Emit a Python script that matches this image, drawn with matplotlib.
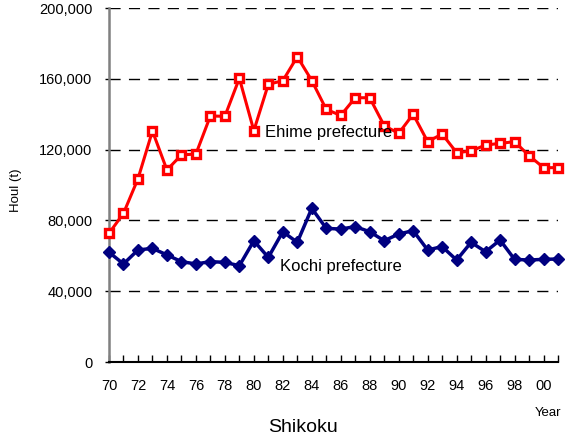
import matplotlib
matplotlib.use("Agg")
import matplotlib.pyplot as plt
from matplotlib.ticker import FuncFormatter

plt.rcParams['font.family'] = ['Liberation Sans', 'DejaVu Sans']

years = list(range(1970, 2002))
ehime = [72.7, 84, 103.5, 130.5, 108.5, 117, 117.5, 139, 138.8, 160.3,
         130.7, 156.9, 158.9, 172.5, 159, 142.7, 139.3, 149.3, 149.3, 133.5,
         129.2, 140, 124.5, 128.8, 118.3, 119.2, 122.6, 123.5, 124.5, 116.6,
         109.8, 109.8]
kochi = [62, 55.4, 63.3, 64.2, 60.5, 56.7, 55.4, 56.7, 56.3, 54.4,
         68.5, 59.1, 73.6, 67.6, 86.8, 75.5, 75.1, 76.5, 73.6, 68.5,
         72.3, 74.2, 63.3, 65.2, 57.6, 67.6, 62.3, 68.9, 58, 57.6,
         58, 58.2]
ehime = [v * 1000 for v in ehime]
kochi = [v * 1000 for v in kochi]

yticks = [0, 40000, 80000, 120000, 160000, 200000]
xtick_years = list(range(1970, 2001, 2))
xtick_labels = [f"{y % 100:02d}" for y in xtick_years]

fig = plt.figure(figsize=(5.78, 4.43), dpi=100)
ax = fig.add_axes([109/578, 1-362/443, (558-109)/578, (362-8)/443])

ax.plot(years, ehime, color='#ff0000', lw=2.2, marker='s', ms=5.5,
        mfc='white', mec='#ff0000', mew=2.4, zorder=3, clip_on=False)
ax.plot(years, kochi, color='#000080', lw=2.5, marker='D', ms=6.5,
        mfc='#000080', mec='#000080', zorder=3, clip_on=False)

ax.set_xlim(1970, 2001)
ax.set_ylim(0, 200000)
ax.set_yticks(yticks)
ax.yaxis.set_major_formatter(FuncFormatter(lambda v, p: f"{int(v):,}"))
for y in yticks[1:]:
    ax.axhline(y, color='black', lw=1, ls=(0, (8, 6)), zorder=1)

ax.set_xticks(xtick_years)
ax.set_xticklabels(xtick_labels)
ax.set_xticks(years, minor=True)
ax.tick_params(axis='x', which='both', direction='in', length=5, width=1,
               labelsize=10.5, pad=12)
ax.tick_params(axis='y', direction='out', length=3, width=1, labelsize=10.5,
               colors='black', pad=9)

for s in ['top', 'right']:
    ax.spines[s].set_visible(False)
ax.spines['left'].set_color('#808080')
ax.spines['left'].set_linewidth(1.8)
ax.spines['bottom'].set_color('black')
ax.spines['bottom'].set_linewidth(1.5)

ax.set_ylabel('Houl (t)', fontsize=9.5)
ax.yaxis.set_label_coords((22-109)/449, (362-190)/354)

fig.text(265/578, 1-133/443, 'Ehime prefecture', fontsize=12, va='center', ha='left')
fig.text(280/578, 1-267/443, 'Kochi prefecture', fontsize=12, va='center', ha='left')
fig.text(548/578, 1-413/443, 'Year', fontsize=9.5, va='center', ha='center')
fig.text(303/578, 1-428/443, 'Shikoku', fontsize=14, va='center', ha='center')

fig.savefig('out.png', dpi=100)
